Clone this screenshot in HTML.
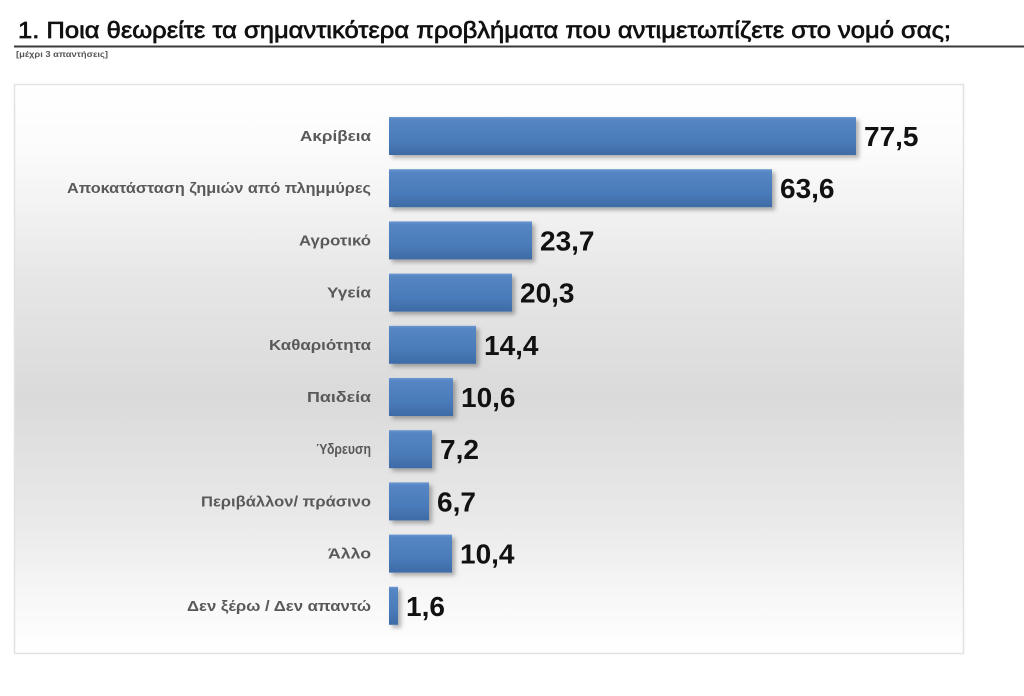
<!DOCTYPE html>
<html>
<head>
<meta charset="utf-8">
<style>
html,body{margin:0;padding:0;background:#fff;}
svg{display:block;}
</style>
</head>
<body>
<svg width="1024" height="696" viewBox="0 0 1024 696" xmlns="http://www.w3.org/2000/svg">
  <defs>
    <linearGradient id="bg" x1="0" y1="0" x2="0" y2="1">
      <stop offset="0" stop-color="#ffffff"/>
      <stop offset="0.12" stop-color="#fbfbfb"/>
      <stop offset="0.35" stop-color="#e6e6e6"/>
      <stop offset="0.55" stop-color="#dadada"/>
      <stop offset="0.75" stop-color="#e8e8e8"/>
      <stop offset="0.92" stop-color="#f9f9f9"/>
      <stop offset="1" stop-color="#ffffff"/>
    </linearGradient>
    <linearGradient id="bar" x1="0" y1="0" x2="0" y2="1">
      <stop offset="0" stop-color="#6a97d0"/>
      <stop offset="0.08" stop-color="#5586c3"/>
      <stop offset="0.6" stop-color="#4a7cbb"/>
      <stop offset="1" stop-color="#3e6ba6"/>
    </linearGradient>
    <filter id="sh" x="-10%" y="-20%" width="130%" height="160%">
      <feDropShadow dx="3" dy="3" stdDeviation="2" flood-color="#000" flood-opacity="0.3"/>
    </filter>
  </defs>

  <!-- title -->
  <text x="18" y="38" font-family="Liberation Sans, sans-serif" font-size="23.5" fill="#111" stroke="#111" stroke-width="0.7" textLength="933" lengthAdjust="spacingAndGlyphs">1. Ποια θεωρείτε τα σημαντικότερα προβλήματα που αντιμετωπίζετε στο νομό σας;</text>
  <rect x="14" y="45.5" width="1010" height="2" fill="#3a3a3a"/>
  <text x="16" y="57" font-family="Liberation Sans, sans-serif" font-size="8" font-weight="bold" fill="#555" textLength="92" lengthAdjust="spacingAndGlyphs">[μέχρι 3 απαντήσεις]</text>

  <!-- chart box -->
  <rect x="14.5" y="84.5" width="949" height="569" fill="url(#bg)" stroke="#e2e2e2" stroke-width="1.5"/>

  <g font-family="Liberation Sans, sans-serif">
    <!-- bars -->
    <g filter="url(#sh)" fill="url(#bar)">
      <rect x="389" y="117" width="467" height="38"/>
      <rect x="389" y="169.2" width="383" height="38"/>
      <rect x="389" y="221.4" width="143" height="38"/>
      <rect x="389" y="273.6" width="123" height="38"/>
      <rect x="389" y="325.8" width="87" height="38"/>
      <rect x="389" y="378" width="64" height="38"/>
      <rect x="389" y="430.2" width="43" height="38"/>
      <rect x="389" y="482.4" width="40" height="38"/>
      <rect x="389" y="534.6" width="63" height="38"/>
      <rect x="389" y="586.8" width="9" height="38"/>
    </g>

    <!-- category labels -->
    <g font-size="15" font-weight="bold" fill="#595959" text-anchor="end">
      <text x="371" y="141" textLength="71" lengthAdjust="spacingAndGlyphs">Ακρίβεια</text>
      <text x="371" y="193.2" textLength="304" lengthAdjust="spacingAndGlyphs">Αποκατάσταση ζημιών από πλημμύρες</text>
      <text x="371" y="245.4" textLength="72" lengthAdjust="spacingAndGlyphs">Αγροτικό</text>
      <text x="371" y="297.6" textLength="44" lengthAdjust="spacingAndGlyphs">Υγεία</text>
      <text x="371" y="349.8" textLength="102" lengthAdjust="spacingAndGlyphs">Καθαριότητα</text>
      <text x="371" y="402" textLength="64" lengthAdjust="spacingAndGlyphs">Παιδεία</text>
      <text x="371" y="454.2" textLength="55" lengthAdjust="spacingAndGlyphs">Ύδρευση</text>
      <text x="371" y="506.4" textLength="170" lengthAdjust="spacingAndGlyphs">Περιβάλλον/ πράσινο</text>
      <text x="371" y="558.6" textLength="43" lengthAdjust="spacingAndGlyphs">Άλλο</text>
      <text x="371" y="610.8" textLength="184" lengthAdjust="spacingAndGlyphs">Δεν ξέρω / Δεν απαντώ</text>
    </g>

    <!-- value labels -->
    <g font-size="28" font-weight="bold" fill="#111">
      <text x="864" y="146">77,5</text>
      <text x="780" y="198.2">63,6</text>
      <text x="540" y="250.4">23,7</text>
      <text x="520" y="302.6">20,3</text>
      <text x="484" y="354.8">14,4</text>
      <text x="461" y="407">10,6</text>
      <text x="440" y="459.2">7,2</text>
      <text x="437" y="511.4">6,7</text>
      <text x="460" y="563.6">10,4</text>
      <text x="406" y="615.8">1,6</text>
    </g>
  </g>
</svg>
</body>
</html>
